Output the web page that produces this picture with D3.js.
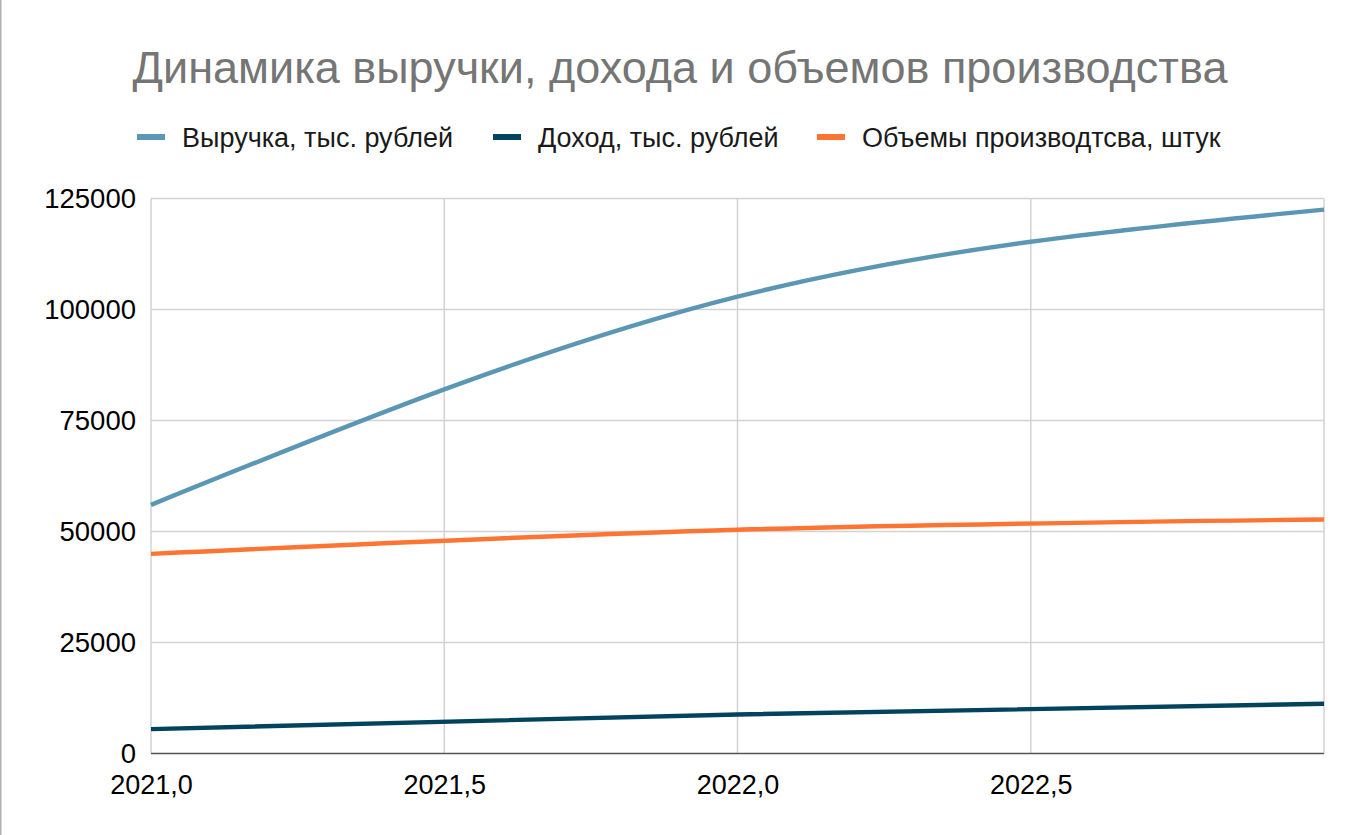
<!DOCTYPE html>
<html><head><meta charset="utf-8">
<script src="https://cdn.jsdelivr.net/npm/d3@7"></script>
<style>body{margin:0;background:#fff;} svg{display:block;font-family:"Liberation Sans",Arial,sans-serif;}</style>
</head><body>
<svg id="c" width="1360" height="835"></svg>
<script>
const years = [2021, 2022, 2023];
const revenue = [56000, 102900, 122500];
const income = [5500, 8800, 11200];
const volume = [44950, 50400, 52700];
const seriesNames = ["Выручка, тыс. рублей", "Доход, тыс. рублей", "Объемы производтсва, штук"];
const colors = ["#5b97b5", "#00435e", "#ff7433"];
const xTicks = [2021, 2021.5, 2022, 2022.5];
const yTicks = [0, 25000, 50000, 75000, 100000, 125000];
const title = "Динамика выручки, дохода и объемов производства";

const svg = d3.select("#c");
const m = {l:151, r:1324, t:198.5, b:753.5};
const x = d3.scaleLinear().domain([2021, 2023]).range([m.l, m.r]);
const y = d3.scaleLinear().domain([0, 125000]).range([m.b, m.t]);

svg.append("line").attr("x1",0.75).attr("x2",0.75).attr("y1",0).attr("y2",835).attr("stroke","#b0b0b0").attr("stroke-width",1.5);

svg.append("text").attr("x",680).attr("y",83).attr("text-anchor","middle")
  .attr("font-size",45).attr("fill","#757575").text(title);

// grid
const g = svg.append("g");
g.selectAll(".hg").data(yTicks.filter(d=>d>0)).join("line")
  .attr("x1",m.l).attr("x2",m.r).attr("y1",d=>y(d)).attr("y2",d=>y(d))
  .attr("stroke","#d3d3d3").attr("stroke-width",1.5);
g.selectAll(".vg").data(xTicks.concat([2023])).join("line")
  .attr("x1",d=>x(d)).attr("x2",d=>x(d)).attr("y1",m.t).attr("y2",m.b)
  .attr("stroke","#d3d3d3").attr("stroke-width",1.5);

// y axis labels
const yAxis = d3.axisLeft(y).tickValues(yTicks).tickSize(0).tickPadding(15).tickFormat(d3.format("d"));
const ya = svg.append("g").attr("transform",`translate(${m.l},0)`).call(yAxis);
ya.select(".domain").remove();
ya.selectAll("text").attr("font-size",27.5).attr("fill","#000").attr("font-family","Liberation Sans, Arial, sans-serif").attr("dy","0.34em");

// x axis
const xAxis = d3.axisBottom(x).tickValues(xTicks).tickSize(0).tickPadding(0).tickFormat(d=>d3.format(".1f")(d).replace(".",","));
const xa = svg.append("g").attr("transform",`translate(0,${m.b})`).call(xAxis);
xa.select(".domain").remove();
xa.selectAll("text").attr("font-size",27).attr("fill","#000").attr("font-family","Liberation Sans, Arial, sans-serif").attr("y",40).attr("dy",0);
svg.append("line").attr("x1",m.l).attr("x2",m.r).attr("y1",m.b).attr("y2",m.b).attr("stroke","#555").attr("stroke-width",1.5);

// lines
const data = [revenue, income, volume];
const line = d3.line().x((d,i)=>x(years[i])).y(d=>y(d)).curve(d3.curveNatural);
svg.selectAll(".ser").data(data).join("path")
  .attr("d", d=>line(d)).attr("fill","none")
  .attr("stroke",(d,i)=>colors[i]).attr("stroke-width",4.4).attr("stroke-linecap","butt");

// legend
const legX = [137, 493, 817];
const lg = svg.selectAll(".leg").data(seriesNames).join("g").attr("transform",(d,i)=>`translate(${legX[i]},137)`);
lg.append("line").attr("x1",0).attr("x2",28).attr("y1",0).attr("y2",0).attr("stroke",(d,i)=>colors[i]).attr("stroke-width",6);
lg.append("text").attr("x",45).attr("y",10).attr("font-size",27).attr("fill","#1a1a1a").text(d=>d);
</script>
</body></html>
